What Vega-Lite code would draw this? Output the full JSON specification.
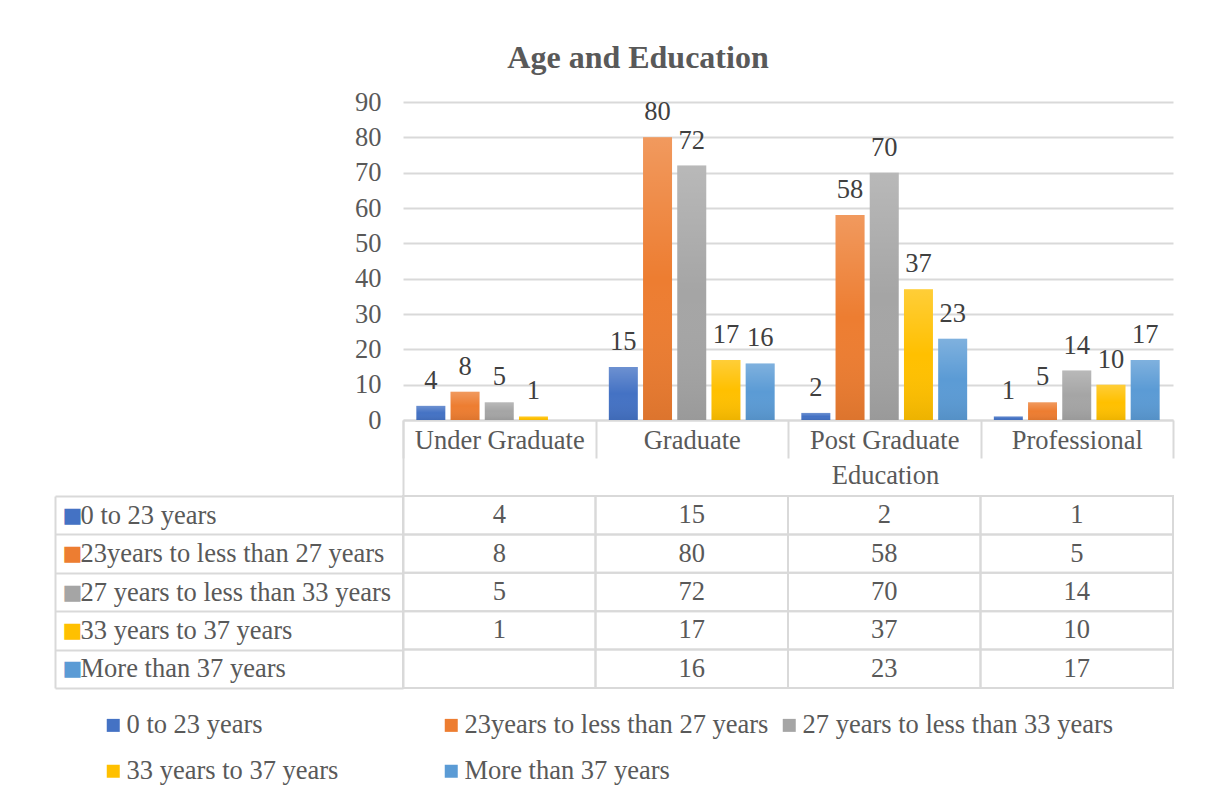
{
  "$schema": "https://vega.github.io/schema/vega-lite/v6.json",
  "autosize": "none",
  "width": 770,
  "height": 318,
  "padding": {"left": 403, "top": 102, "right": 35, "bottom": 376},
  "background": "white",
  "config": {
    "view": {"stroke": null},
    "font": "Liberation Serif"
  },
  "title": {
    "text": "Age and Education",
    "font": "Liberation Serif",
    "fontSize": 32,
    "fontWeight": "bold",
    "color": "#595959",
    "anchor": "middle",
    "frame": "group",
    "dx": -150,
    "offset": 14
  },
  "datasets": {
    "counts": [
      {"edu": "Under Graduate", "age": "0 to 23 years", "n": 4},
      {"edu": "Under Graduate", "age": "23years to less than 27 years", "n": 8},
      {"edu": "Under Graduate", "age": "27 years to less than 33 years", "n": 5},
      {"edu": "Under Graduate", "age": "33 years to 37 years", "n": 1},
      {"edu": "Under Graduate", "age": "More than 37 years", "n": null},
      {"edu": "Graduate", "age": "0 to 23 years", "n": 15},
      {"edu": "Graduate", "age": "23years to less than 27 years", "n": 80},
      {"edu": "Graduate", "age": "27 years to less than 33 years", "n": 72},
      {"edu": "Graduate", "age": "33 years to 37 years", "n": 17},
      {"edu": "Graduate", "age": "More than 37 years", "n": 16},
      {"edu": "Post Graduate", "age": "0 to 23 years", "n": 2},
      {"edu": "Post Graduate", "age": "23years to less than 27 years", "n": 58},
      {"edu": "Post Graduate", "age": "27 years to less than 33 years", "n": 70},
      {"edu": "Post Graduate", "age": "33 years to 37 years", "n": 37},
      {"edu": "Post Graduate", "age": "More than 37 years", "n": 23},
      {"edu": "Professional", "age": "0 to 23 years", "n": 1},
      {"edu": "Professional", "age": "23years to less than 27 years", "n": 5},
      {"edu": "Professional", "age": "27 years to less than 33 years", "n": 14},
      {"edu": "Professional", "age": "33 years to 37 years", "n": 10},
      {"edu": "Professional", "age": "More than 37 years", "n": 17}
    ]
  },
  "data": {"name": "counts"},
  "layer": [
    {
      "encoding": {
        "x": {
          "field": "edu",
          "type": "nominal",
          "scale": {
            "domain": ["Under Graduate", "Graduate", "Post Graduate", "Professional"],
            "paddingInner": 0,
            "paddingOuter": 0
          },
          "axis": {
            "title": "Education",
            "titleX": 482,
            "titleY": 63,
            "titleBaseline": "alphabetic",
            "titleAlign": "center",
            "titleFont": "Liberation Serif",
            "titleFontSize": 26.5,
            "titleFontWeight": "normal",
            "titleColor": "#595959",
            "labelAngle": 0,
            "labelFont": "Liberation Serif",
            "labelFontSize": 26.5,
            "labelColor": "#595959",
            "labelBaseline": "alphabetic",
            "labelPadding": -10,
            "labelLimit": 300,
            "tickBand": "extent",
            "tickSize": 38,
            "tickColor": "#d9d9d9",
            "tickWidth": 2,
            "domainColor": "#d9d9d9",
            "domainWidth": 2
          }
        },
        "xOffset": {
          "field": "age",
          "type": "nominal",
          "scale": {
            "domain": ["0 to 23 years", "23years to less than 27 years", "27 years to less than 33 years", "33 years to 37 years", "More than 37 years"],
            "paddingInner": 0.153,
            "paddingOuter": 0.39
          }
        },
        "y": {
          "field": "n",
          "type": "quantitative",
          "scale": {"domain": [0, 90]},
          "axis": {
            "title": null,
            "values": [0, 10, 20, 30, 40, 50, 60, 70, 80, 90],
            "grid": true,
            "gridColor": "#d9d9d9",
            "gridWidth": 2,
            "ticks": false,
            "domain": false,
            "labelFont": "Liberation Serif",
            "labelFontSize": 26.5,
            "labelColor": "#595959",
            "labelPadding": 22
          }
        }
      },
      "layer": [
        {
          "mark": {"type": "bar"},
          "encoding": {
            "color": {
              "field": "age",
              "type": "nominal",
              "scale": {
                "domain": ["0 to 23 years", "23years to less than 27 years", "27 years to less than 33 years", "33 years to 37 years", "More than 37 years"],
                "range": ["#4472C4", "#ED7D31", "#A5A5A5", "#FFC000", "#5B9BD5"]
              },
              "legend": {
                "title": null,
                "orient": "none",
                "legendX": -303,
                "legendY": 610,
                "direction": "horizontal",
                "columns": 3,
                "gridAlign": "all",
                "columnPadding": 0,
                "rowPadding": 19,
                "symbolType": "square",
                "symbolSize": 169,
                "symbolStrokeWidth": 0,
                "labelFont": "Liberation Serif",
                "labelFontSize": 26.5,
                "labelColor": "#595959",
                "labelOffset": 0,
                "labelLimit": 400
              }
            }
          }
        },
        {
          "mark": {
            "type": "bar",
            "fill": {
              "gradient": "linear",
              "x1": 0, "y1": 0, "x2": 0, "y2": 1,
              "stops": [
                {"offset": 0, "color": "rgba(255,255,255,0.22)"},
                {"offset": 0.5, "color": "rgba(255,255,255,0)"},
                {"offset": 1, "color": "rgba(0,0,0,0.07)"}
              ]
            }
          }
        },
        {
          "transform": [{"filter": "isValid(datum.n)"}],
          "mark": {
            "type": "text",
            "baseline": "alphabetic",
            "dy": -17,
            "font": "Liberation Serif",
            "fontSize": 26.5,
            "color": "#404040"
          },
          "encoding": {"text": {"field": "n", "type": "quantitative"}}
        }
      ]
    },
    {
      "mark": {"type": "rect", "filled": false, "stroke": "#d9d9d9", "strokeWidth": 2},
      "encoding": {
        "x": {"field": "edu", "type": "nominal"},
        "y": {
          "field": "age",
          "type": "nominal",
          "scale": {
            "domain": ["0 to 23 years", "23years to less than 27 years", "27 years to less than 33 years", "33 years to 37 years", "More than 37 years"],
            "range": [318, 586],
            "paddingInner": 0,
            "paddingOuter": 0.99,
            "align": 1
          },
          "axis": {
            "orient": "left",
            "title": null,
            "grid": false,
            "domain": true,
            "domainColor": "#d9d9d9",
            "domainWidth": 2,
            "ticks": true,
            "tickBand": "extent",
            "tickSize": 348,
            "tickColor": "#d9d9d9",
            "tickWidth": 2,
            "labelAlign": "left",
            "labelBaseline": "middle",
            "labelPadding": -25,
            "labelFont": "Liberation Serif",
            "labelFontSize": 26.5,
            "labelColor": "#595959",
            "labelLimit": 400
          }
        }
      }
    },
    {
      "transform": [{"filter": "isValid(datum.n)"}],
      "mark": {
        "type": "text",
        "baseline": "middle",
        "font": "Liberation Serif",
        "fontSize": 26.5,
        "color": "#595959"
      },
      "encoding": {
        "x": {"field": "edu", "type": "nominal"},
        "y": {
          "field": "age",
          "type": "nominal",
          "scale": {
            "domain": ["0 to 23 years", "23years to less than 27 years", "27 years to less than 33 years", "33 years to 37 years", "More than 37 years"],
            "range": [394, 586],
            "paddingInner": 0,
            "paddingOuter": 0
          },
          "axis": {
            "orient": "left",
            "offset": 348,
            "title": null,
            "grid": false,
            "domain": true,
            "domainColor": "#d9d9d9",
            "domainWidth": 2,
            "ticks": false,
            "labelExpr": "'■'",
            "labelFont": "DejaVu Sans",
            "labelFontSize": 21,
            "labelAlign": "left",
            "labelBaseline": "middle",
            "labelPadding": -7,
            "labelColor": {
              "condition": [
                {"test": "datum.value == '0 to 23 years'", "value": "#4472C4"},
                {"test": "datum.value == '23years to less than 27 years'", "value": "#ED7D31"},
                {"test": "datum.value == '27 years to less than 33 years'", "value": "#A5A5A5"},
                {"test": "datum.value == '33 years to 37 years'", "value": "#FFC000"}
              ],
              "value": "#5B9BD5"
            }
          }
        },
        "text": {"field": "n", "type": "quantitative"}
      }
    }
  ],
  "resolve": {"scale": {"y": "independent"}}
}
